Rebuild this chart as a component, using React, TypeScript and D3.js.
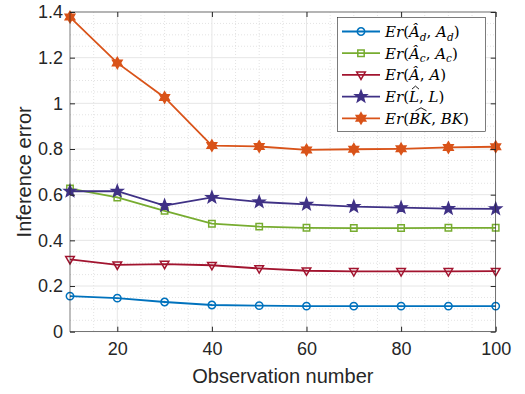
import React, { useEffect, useRef } from 'react'
import * as d3 from 'd3'

// observation counts on the x axis
const observations = [10, 20, 30, 40, 50, 60, 70, 80, 90, 100]

// inference error per series
const erAd = [0.156, 0.147, 0.130, 0.117, 0.114, 0.112, 0.112, 0.112, 0.112, 0.112]
const erAc = [0.627, 0.588, 0.529, 0.473, 0.460, 0.455, 0.454, 0.454, 0.455, 0.455]
const erA = [0.317, 0.293, 0.296, 0.291, 0.277, 0.267, 0.264, 0.264, 0.264, 0.265]
const erL = [0.615, 0.615, 0.552, 0.588, 0.568, 0.558, 0.548, 0.543, 0.539, 0.538]
const erBK = [1.378, 1.177, 1.026, 0.815, 0.811, 0.796, 0.799, 0.801, 0.807, 0.810]

const xTicks = [20, 40, 60, 80, 100]
const yTicks = [0, 0.2, 0.4, 0.6, 0.8, 1, 1.2, 1.4]

const xLabel = 'Observation number'
const yLabel = 'Inference error'

// legend labels as pieces: t = text, s = style (i italic, n upright, sub subscript)
const legendLabels = [
  [{ t: 'Er', s: 'i' }, { t: '(', s: 'n' }, { t: 'Â', s: 'i' }, { t: 'd', s: 'sub' }, { t: ', ', s: 'n' }, { t: 'A', s: 'i' }, { t: 'd', s: 'sub' }, { t: ')', s: 'n' }],
  [{ t: 'Er', s: 'i' }, { t: '(', s: 'n' }, { t: 'Â', s: 'i' }, { t: 'c', s: 'sub' }, { t: ', ', s: 'n' }, { t: 'A', s: 'i' }, { t: 'c', s: 'sub' }, { t: ')', s: 'n' }],
  [{ t: 'Er', s: 'i' }, { t: '(', s: 'n' }, { t: 'Â', s: 'i' }, { t: ', ', s: 'n' }, { t: 'A', s: 'i' }, { t: ')', s: 'n' }],
  [{ t: 'Er', s: 'i' }, { t: '(', s: 'n' }, { t: 'L', s: 'i', hat: true }, { t: ', ', s: 'n' }, { t: 'L', s: 'i' }, { t: ')', s: 'n' }],
  [{ t: 'Er', s: 'i' }, { t: '(', s: 'n' }, { t: 'BK', s: 'i', hat: true }, { t: ', ', s: 'n' }, { t: 'BK', s: 'i' }, { t: ')', s: 'n' }],
]

const seriesList = [
  { key: 'ad', values: erAd, color: '#0072BD', marker: 'circle' },
  { key: 'ac', values: erAc, color: '#77AC30', marker: 'square' },
  { key: 'a', values: erA, color: '#A2142F', marker: 'triangle' },
  { key: 'l', values: erL, color: '#3F3185', marker: 'pentagram' },
  { key: 'bk', values: erBK, color: '#D95319', marker: 'hexagram' },
]

const starPath = (points, outer, inner) => {
  const pts = []
  for (let i = 0; i < points * 2; i++) {
    const r = i % 2 === 0 ? outer : inner
    const a = -Math.PI / 2 + (i * Math.PI) / points
    pts.push([r * Math.cos(a), r * Math.sin(a)])
  }
  return 'M' + pts.map(p => p.join(',')).join('L') + 'Z'
}

const markerPath = (kind) => {
  if (kind === 'circle') return d3.symbol(d3.symbolCircle, Math.PI * 3.7 * 3.7)()
  if (kind === 'square') return 'M-3.2,-3.2L3.2,-3.2L3.2,3.2L-3.2,3.2Z'
  if (kind === 'triangle') return 'M-4.3,-2.8L4.3,-2.8L0,4.6Z'
  if (kind === 'pentagram') return starPath(5, 6, 2.5)
  return starPath(6, 5.5, 3.2)
}

const isFilled = (kind) => kind === 'pentagram' || kind === 'hexagram'

function App() {
  const ref = useRef(null)

  useEffect(() => {
    const width = 525, height = 394
    const margin = { top: 12, right: 29.3, bottom: 62.3, left: 70 }
    const w = width - margin.left - margin.right
    const h = height - margin.top - margin.bottom

    const svg = d3.select(ref.current)
    svg.selectAll('*').remove()

    const g = svg.append('g').attr('transform', `translate(${margin.left},${margin.top})`)

    const x = d3.scaleLinear().domain([10, 100]).range([0, w])
    const y = d3.scaleLinear().domain([0, 1.4]).range([h, 0])

    // minor grid
    const xMinor = d3.range(15, 100, 5).filter(v => v % 20 !== 0)
    const yMinor = d3.range(0.05, 1.4, 0.05).filter(v => Math.abs(v / 0.2 - Math.round(v / 0.2)) > 0.01)
    g.selectAll('.x-minor').data(xMinor).join('line')
      .attr('x1', d => x(d)).attr('x2', d => x(d)).attr('y1', 0).attr('y2', h)
      .attr('stroke', '#e3e3e3').attr('stroke-dasharray', '1,2').attr('stroke-width', 1)
    g.selectAll('.y-minor').data(yMinor).join('line')
      .attr('y1', d => y(d)).attr('y2', d => y(d)).attr('x1', 0).attr('x2', w)
      .attr('stroke', '#e3e3e3').attr('stroke-dasharray', '1,2').attr('stroke-width', 1)

    // major grid
    g.selectAll('.x-grid').data(xTicks).join('line')
      .attr('x1', d => x(d)).attr('x2', d => x(d)).attr('y1', 0).attr('y2', h)
      .attr('stroke', '#e6e6e6').attr('stroke-width', 1)
    g.selectAll('.y-grid').data(yTicks).join('line')
      .attr('y1', d => y(d)).attr('y2', d => y(d)).attr('x1', 0).attr('x2', w)
      .attr('stroke', '#e6e6e6').attr('stroke-width', 1)

    // series
    const line = d3.line().x((d, i) => x(observations[i])).y(d => y(d))
    seriesList.forEach(s => {
      g.append('path')
        .attr('d', line(s.values))
        .attr('fill', 'none')
        .attr('stroke', s.color)
        .attr('stroke-width', 1.8)
      g.append('g').selectAll('path').data(s.values).join('path')
        .attr('transform', (d, i) => `translate(${x(observations[i])},${y(d)})`)
        .attr('d', markerPath(s.marker))
        .attr('fill', isFilled(s.marker) ? s.color : 'none')
        .attr('stroke', s.color)
        .attr('stroke-width', 1.5)
        .attr('stroke-linejoin', 'miter')
    })

    // axes (ticks pointing inward, box on)
    const axisColor = '#262626'
    const fmt = d => d3.format('~g')(d)
    const styleAxis = (sel) => {
      sel.select('.domain').remove()
      sel.selectAll('line').attr('stroke', axisColor)
      sel.selectAll('text').attr('fill', axisColor)
        .style('font-family', 'Arial, "Liberation Sans", Helvetica, sans-serif')
        .style('font-size', '18px')
    }
    g.append('g').attr('transform', `translate(0,${h})`)
      .call(d3.axisBottom(x).tickValues(xTicks).tickSizeInner(-5).tickSizeOuter(0).tickPadding(11).tickFormat(fmt))
      .call(styleAxis)
    g.append('g')
      .call(d3.axisLeft(y).tickValues(yTicks).tickSizeInner(-5).tickSizeOuter(0).tickPadding(7).tickFormat(fmt))
      .call(styleAxis)
    g.append('g')
      .call(d3.axisTop(x).tickValues(xTicks).tickSizeInner(-5).tickSizeOuter(0).tickFormat(() => ''))
      .call(styleAxis)
    g.append('g').attr('transform', `translate(${w},0)`)
      .call(d3.axisRight(y).tickValues(yTicks).tickSizeInner(-5).tickSizeOuter(0).tickFormat(() => ''))
      .call(styleAxis)

    g.append('rect')
      .attr('x', 0).attr('y', 0).attr('width', w).attr('height', h)
      .attr('fill', 'none').attr('stroke', '#262626').attr('stroke-width', 0.6)

    // axis titles
    svg.append('text')
      .attr('x', margin.left + w / 2).attr('y', 383)
      .attr('text-anchor', 'middle').attr('fill', axisColor)
      .style('font-family', 'Arial, "Liberation Sans", Helvetica, sans-serif')
      .style('font-size', '20px')
      .text(xLabel)
    svg.append('text')
      .attr('transform', `translate(31,${margin.top + h / 2}) rotate(-90)`)
      .attr('text-anchor', 'middle').attr('fill', axisColor)
      .style('font-family', 'Arial, "Liberation Sans", Helvetica, sans-serif')
      .style('font-size', '20px')
      .text(yLabel)

    // legend
    const lg = svg.append('g')
    lg.append('rect')
      .attr('x', 337.5).attr('y', 17.5).attr('width', 148).attr('height', 114)
      .attr('fill', '#fff').attr('stroke', '#262626').attr('stroke-width', 0.6)
    seriesList.forEach((s, i) => {
      const cy = 31.5 + i * 21.7
      lg.append('line')
        .attr('x1', 342).attr('x2', 380).attr('y1', cy).attr('y2', cy)
        .attr('stroke', s.color).attr('stroke-width', 1.8)
      lg.append('path')
        .attr('transform', `translate(361,${cy})`)
        .attr('d', markerPath(s.marker))
        .attr('fill', isFilled(s.marker) ? s.color : 'none')
        .attr('stroke', s.color).attr('stroke-width', 1.5)
      const txt = lg.append('text')
        .attr('x', 385).attr('y', cy + 5.5)
        .attr('fill', '#000')
        .style('font-family', '"DejaVu Serif", serif')
        .style('font-size', '15px')
      let shift = 0
      let idx = 0
      const hats = []
      legendLabels[i].forEach(p => {
        const span = txt.append('tspan').text(p.t)
        const target = p.s === 'sub' ? 3.5 : 0
        if (target !== shift) { span.attr('dy', target - shift); shift = target }
        span.style('font-style', p.s === 'n' ? 'normal' : 'italic')
        if (p.s === 'sub') span.style('font-size', '10.5px')
        if (p.hat) hats.push({ start: idx, len: p.t.length })
        idx += p.t.length
      })
      const node = txt.node()
      hats.forEach(hh => {
        const a = node.getExtentOfChar(hh.start)
        const cx = hh.len > 1 ? a.x + a.width + 1 : a.x + a.width / 2 + 1.5
        const top = a.y + 1
        const hw = hh.len > 1 ? 5.5 : 3.5
        lg.append('path')
          .attr('d', `M${cx - hw},${top}L${cx},${top - 3}L${cx + hw},${top}`)
          .attr('fill', 'none').attr('stroke', '#000').attr('stroke-width', 0.9)
      })
    })
  }, [])

  return (
    <svg ref={ref} width={525} height={394}
      style={{ position: 'absolute', left: 0, top: 0, background: '#fff' }} />
  )
}

export default App
